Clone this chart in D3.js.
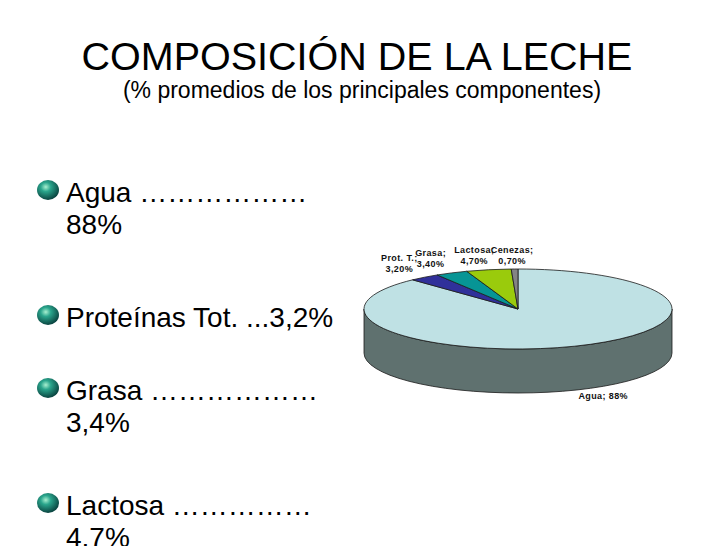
<!DOCTYPE html>
<html>
<head>
  <meta charset="utf-8">
  <title>Composición de la leche</title>
  <style>
    body { margin: 0; background: #fff; }
    text { font-family: "Liberation Sans", Arial, sans-serif; }
  </style>
</head>
<body>
  <svg width="728" height="546"></svg>
  <script src="https://d3js.org/d3.v7.min.js"></script>
  <script>
  // datos del gráfico
  const components = ["Agua", "Prot. T.", "Grasa", "Lactosa", "Cenezas"];
  const percents = [88, 3.2, 3.4, 4.7, 0.7];
  const pctLabels = ["88%", "3,20%", "3,40%", "4,70%", "0,70%"];
  const topColors = ["#bfe1e4", "#30309a", "#079595", "#9acb0c", "#848484"];
  const sideColors = ["#5f716f", "#1c1c60", "#055c5c", "#5f7e07", "#555555"];

  // texto de la lista
  const bulletItems = [
    ["Agua \u2026\u2026\u2026\u2026\u2026\u2026", "88%"],
    ["Proteínas Tot. ...3,2%"],
    ["Grasa \u2026\u2026\u2026\u2026\u2026\u2026", "3,4%"],
    ["Lactosa \u2026\u2026\u2026\u2026\u2026", "4,7%"]
  ];

  const svg = d3.select("svg");

  // 1. títulos
  svg.append("text")
    .attr("x", 357).attr("y", 70)
    .attr("text-anchor", "middle")
    .attr("font-size", 39.5)
    .text("COMPOSICIÓN DE LA LECHE");
  svg.append("text")
    .attr("x", 362).attr("y", 98)
    .attr("text-anchor", "middle")
    .attr("font-size", 23)
    .text("(% promedios de los principales componentes)");

  // 2. lista con viñetas
  let defs = svg.append("defs");
  let grad = defs.append("radialGradient")
    .attr("id", "ball").attr("cx", "40%").attr("cy", "35%").attr("r", "65%");
  grad.append("stop").attr("offset", "0%").attr("stop-color", "#a8f0d0");
  grad.append("stop").attr("offset", "35%").attr("stop-color", "#2aa58c");
  grad.append("stop").attr("offset", "100%").attr("stop-color", "#0a4440");

  const firstBaselines = [202, 327, 400, 515];
  const lineGap = 32;

  let items = svg.selectAll(".item")
    .data(bulletItems)
    .enter()
    .append("g")
    .attr("class", "item")
    .attr("transform", (d, i) => "translate(0," + firstBaselines[i] + ")");

  items.append("ellipse")
    .attr("cx", 48).attr("cy", -12)
    .attr("rx", 11).attr("ry", 10)
    .attr("fill", "url(#ball)");

  items.append("text")
    .attr("x", 66)
    .attr("font-size", 28)
    .html(d => d.map((t, i) => `<tspan x="66" y="${i * lineGap}">${t}</tspan>`).join(""));

  // 3. gráfico circular 3D
  const cx = 518, cy = 309, rx = 154, ry = 40, depth = 44;
  const arcs = d3.pie().sort(null).value(d => d)(percents);

  const pt = (a, dy) => [cx + rx * Math.sin(a), cy - ry * Math.cos(a) + (dy || 0)];

  // pared lateral (solo la mitad delantera, de 90° a 270°)
  const front = [Math.PI / 2, Math.PI * 3 / 2];
  let sides = svg.append("g");
  arcs.forEach((a, i) => {
    let a1 = Math.max(a.startAngle, front[0]);
    let a2 = Math.min(a.endAngle, front[1]);
    if (a2 <= a1) return;
    let p1 = pt(a1), p2 = pt(a2), p3 = pt(a2, depth), p4 = pt(a1, depth);
    let d = "M" + p1 + " A" + rx + "," + ry + " 0 0 1 " + p2 +
      " L" + p3 + " A" + rx + "," + ry + " 0 0 0 " + p4 + " Z";
    sides.append("path")
      .attr("d", d)
      .attr("fill", sideColors[i])
      .attr("stroke", "#1a1a1a")
      .attr("stroke-width", 0.8);
  });

  // cara superior
  svg.append("g").selectAll("path")
    .data(arcs)
    .enter()
    .append("path")
    .attr("d", a => {
      let p1 = pt(a.startAngle), p2 = pt(a.endAngle);
      let large = (a.endAngle - a.startAngle) > Math.PI ? 1 : 0;
      return "M" + cx + "," + cy + " L" + p1 + " A" + rx + "," + ry + " 0 " + large + " 1 " + p2 + " Z";
    })
    .attr("fill", (a, i) => topColors[i])
    .attr("stroke", "#1a1a1a")
    .attr("stroke-width", 0.8)
    .attr("stroke-linejoin", "round");

  // etiquetas de datos (con el pequeño desplazamiento anti-solape del original)
  const labelNudge = [[20, -7], [-11, 3], [-11, 4], [-10, 6], [-2, 7]];
  svg.append("g")
    .selectAll("text")
    .data(arcs)
    .enter()
    .append("text")
    .attr("text-anchor", "middle")
    .attr("font-size", 9)
    .attr("font-weight", "bold")
    .attr("letter-spacing", 0.4)
    .attr("fill", "#111")
    .html((a, i) => {
      let mid = (a.startAngle + a.endAngle) / 2;
      let down = Math.cos(mid) < 0;
      let x = cx + rx * 1.15 * Math.sin(mid) + labelNudge[i][0];
      let y = cy - ry * 1.5 * Math.cos(mid) + (down ? depth : 0) - 3 + labelNudge[i][1];
      if (down) {
        return `<tspan x="${x}" y="${y}">${components[i]}; ${pctLabels[i]}</tspan>`;
      }
      return `<tspan x="${x}" y="${y}">${components[i]};</tspan>` +
        `<tspan x="${x}" y="${y + 11}">${pctLabels[i]}</tspan>`;
    });
  </script>
</body>
</html>
